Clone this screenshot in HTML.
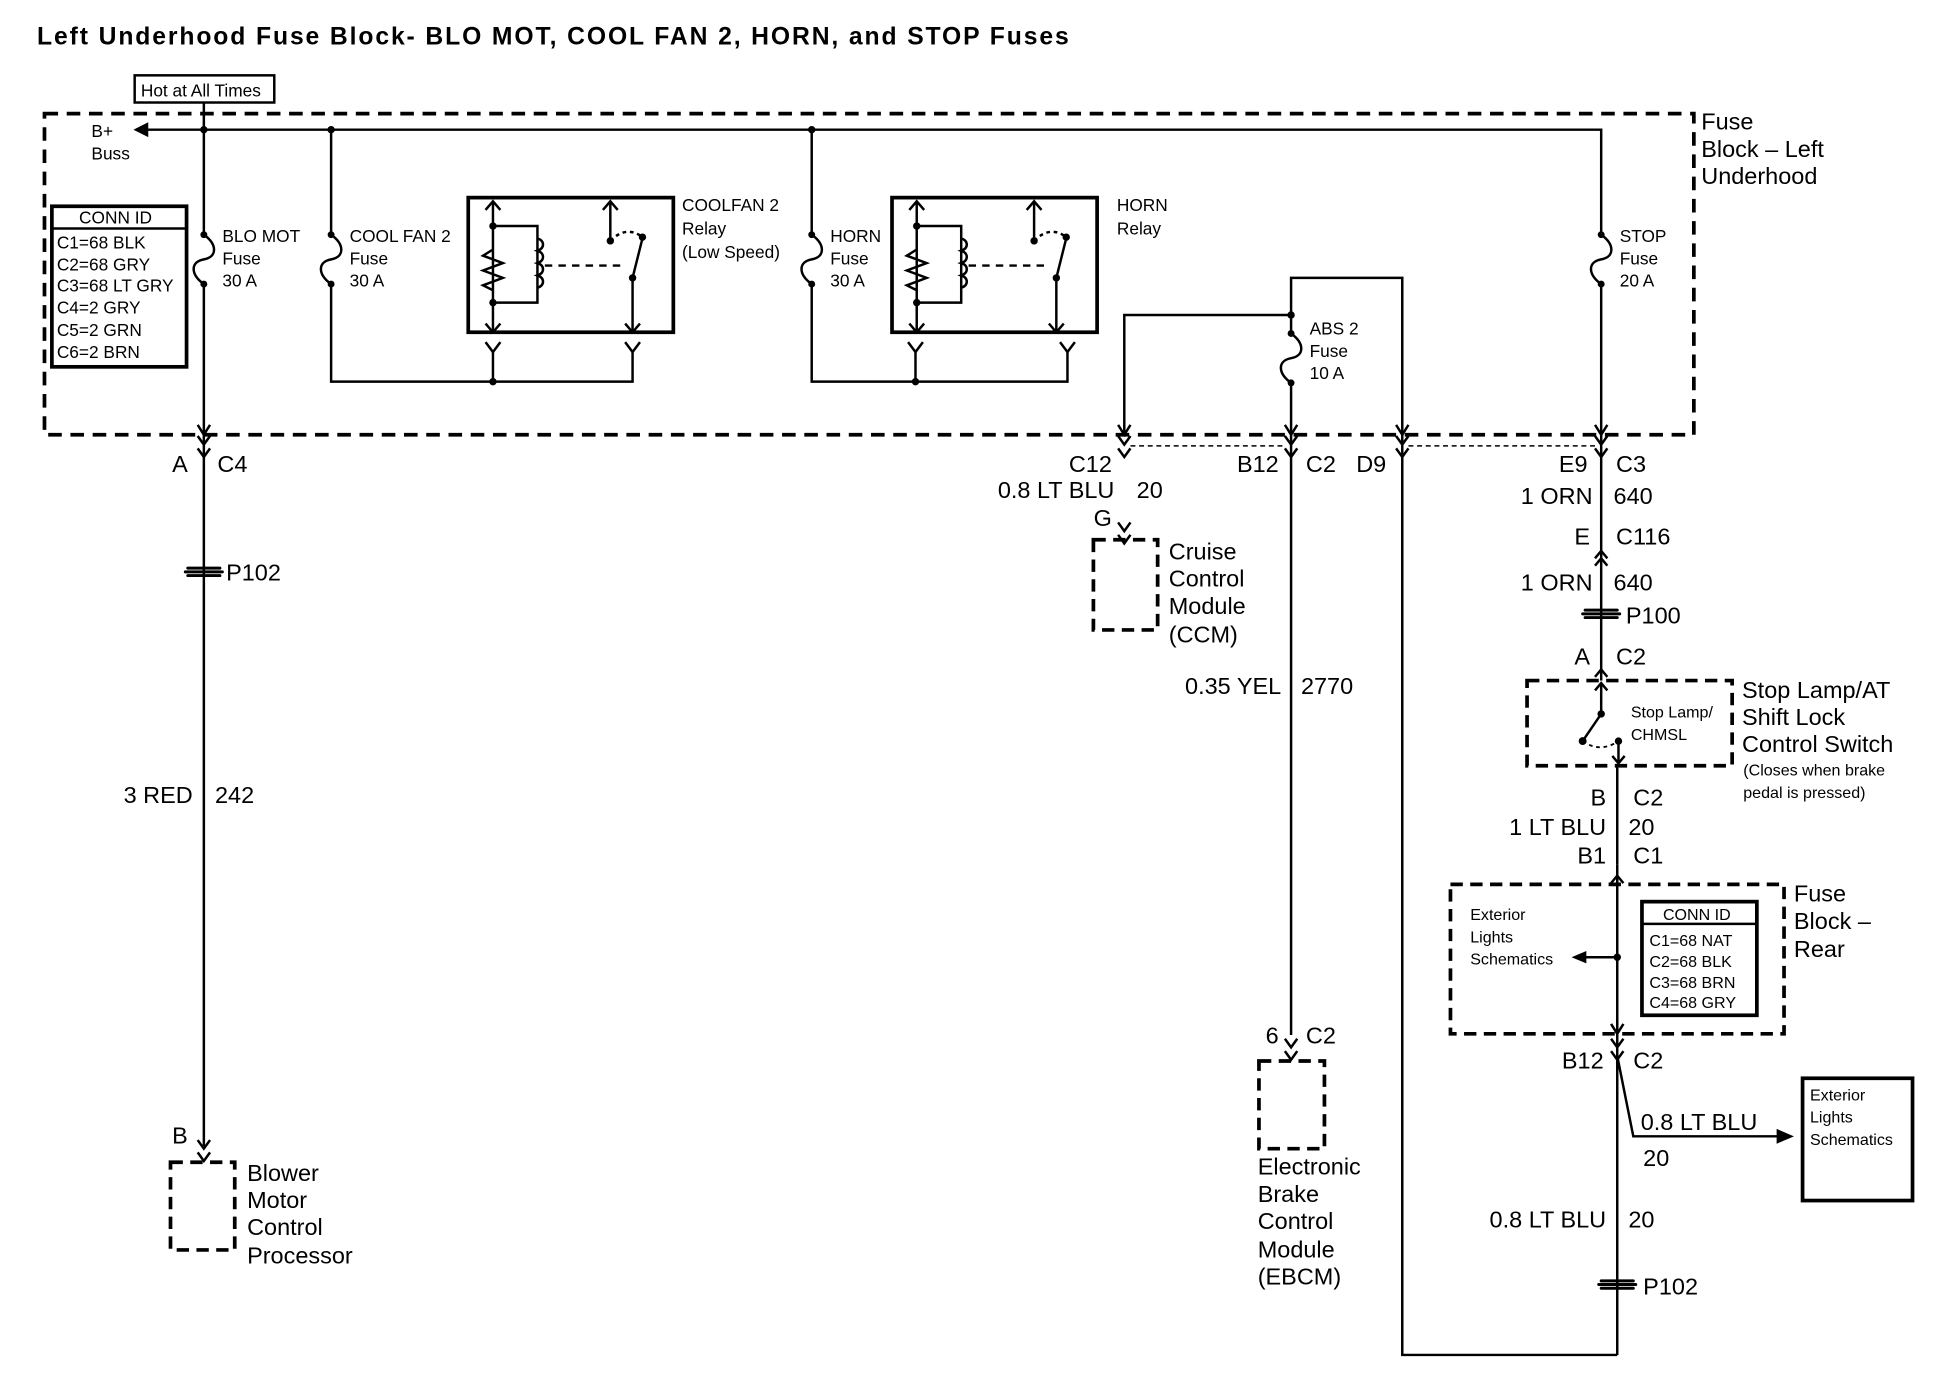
<!DOCTYPE html>
<html><head><meta charset="utf-8"><style>
html,body{margin:0;padding:0;background:#fff;}
svg{display:block;}
text{font-family:"Liberation Sans",Arial,sans-serif;fill:#000;}
.b{font-size:19px;}
.s{font-size:14px;}
.r{text-anchor:end;}
</style></head><body>
<svg width="1936" height="1392" viewBox="0 0 1567 1127" preserveAspectRatio="none" xmlns="http://www.w3.org/2000/svg">
<defs>
<g id="fz"><path d="M0,0 C11,8 11,18 0,20 C-11,22 -11,32 0,40" fill="none" stroke="#000" stroke-width="2"/><circle cx="0" cy="0" r="2.8"/><circle cx="0" cy="40" r="2.8"/></g>
<g id="cn"><path d="M-5,-7 L0,0 L5,-7 M-5,3 L0,10 L5,3" fill="none" stroke="#000" stroke-width="2"/></g>
<g id="sp"><path d="M-13,-3 L13,-3 M-13,3 L13,3 M-15,0 L15,0" stroke="#000" stroke-width="2.4" stroke-linecap="round"/></g>
<g id="relay">
<rect x="0" y="0" width="166" height="109" fill="none" stroke="#000" stroke-width="3"/>
<path d="M20,3 V109 M20,23 H56 V85 H20 M20,42 L12,47 L28,53 L12,59 L28,65 L12,71 L20,75 M56,33 c6,2 6,8 0,10 c6,2 6,8 0,10 c6,2 6,8 0,10 c6,2 6,8 0,10 M133,109 V65 L141,33 M115,3 V35" fill="none" stroke="#000" stroke-width="2"/>
<path d="M62,55 H128" stroke="#000" stroke-width="2" stroke-dasharray="6,5"/>
<path d="M115,35 Q128,22 141,32" fill="none" stroke="#000" stroke-width="2" stroke-dasharray="3,3"/>
<path d="M14,10 L20,3 L26,10 M109,10 L115,3 L121,10 M14,102 L20,109 L26,102 M127,102 L133,109 L139,102" fill="none" stroke="#000" stroke-width="2"/>
<circle cx="20" cy="23" r="3"/><circle cx="20" cy="85" r="3"/><circle cx="115" cy="35" r="3"/><circle cx="141" cy="32" r="3"/><circle cx="133" cy="65" r="3"/>
</g>
</defs>

<text x="30" y="36" font-size="20" font-weight="bold" textLength="835" lengthAdjust="spacing">Left Underhood Fuse Block- BLO MOT, COOL FAN 2,   HORN, and STOP Fuses</text>
<rect x="109" y="61" width="113" height="22" fill="none" stroke="#000" stroke-width="2"/>
<text x="114" y="78" class="s">Hot at All Times</text>

<rect x="36" y="92" width="1335" height="260" fill="none" stroke="#000" stroke-width="3" stroke-dasharray="11,7"/>
<text x="1377" y="105" class="b">Fuse</text><text x="1377" y="127" class="b">Block – Left</text><text x="1377" y="149" class="b">Underhood</text>

<g fill="none" stroke="#000" stroke-width="2">
<path d="M110,105 H1296 V190 M1296,230 V352"/>
<path d="M165,83 V190 M165,230 V928"/>
<path d="M268,105 V190 M268,230 V309 H512 V285 M399,309 V285"/>
<path d="M657,105 V190 M657,230 V309 H864 V285 M741,309 V285"/>
<path d="M1045,270 V225 H1135 V1097 H1309 M910,352 V255 H1045 M1045,310 V838"/>
<path d="M1296,352 V620 M1309,620 V640 M1309,700 V1097"/>
<path d="M1309,775 H1280 M1309,855 L1322,920 H1445"/>
<path d="M393,277 L399,285 L405,277 M506,277 L512,285 L518,277 M735,277 L741,285 L747,277 M858,277 L864,285 L870,277"/>
</g>
<path d="M108,105 L120,99 L120,111 Z"/>
<path d="M1272,775 L1284,770 L1284,780 Z"/>
<path d="M1452,920 L1438,914 L1438,926 Z"/>
<circle cx="165" cy="105" r="3"/><circle cx="268" cy="105" r="3"/><circle cx="657" cy="105" r="3"/>
<circle cx="399" cy="309" r="3"/><circle cx="741" cy="309" r="3"/><circle cx="1045" cy="255" r="3"/><circle cx="1309" cy="775" r="3"/>
<path d="M905,344 L910,352 L915,344 M1040,344 L1045,352 L1050,344 M1130,344 L1135,352 L1140,344 M1291,344 L1296,352 L1301,344 M160,344 L165,352 L170,344" fill="none" stroke="#000" stroke-width="2"/>

<text x="74" y="111" class="s">B+</text><text x="74" y="129" class="s">Buss</text>
<rect x="42" y="167" width="109" height="130" fill="none" stroke="#000" stroke-width="3"/>
<path d="M42,185 H151" stroke="#000" stroke-width="2"/>
<text x="64" y="181" class="s">CONN ID</text>
<text x="46" y="201" class="s">C1=68 BLK</text><text x="46" y="219" class="s">C2=68 GRY</text><text x="46" y="236" class="s">C3=68 LT GRY</text><text x="46" y="254" class="s">C4=2 GRY</text><text x="46" y="272" class="s">C5=2 GRN</text><text x="46" y="290" class="s">C6=2 BRN</text>

<use href="#fz" x="165" y="190"/><use href="#fz" x="268" y="190"/><use href="#fz" x="657" y="190"/><use href="#fz" x="1296" y="190"/><use href="#fz" x="1045" y="270"/>
<text x="180" y="196" class="s">BLO MOT</text><text x="180" y="214" class="s">Fuse</text><text x="180" y="232" class="s">30 A</text>
<text x="283" y="196" class="s">COOL FAN 2</text><text x="283" y="214" class="s">Fuse</text><text x="283" y="232" class="s">30 A</text>
<text x="672" y="196" class="s">HORN</text><text x="672" y="214" class="s">Fuse</text><text x="672" y="232" class="s">30 A</text>
<text x="1311" y="196" class="s">STOP</text><text x="1311" y="214" class="s">Fuse</text><text x="1311" y="232" class="s">20 A</text>
<text x="1060" y="271" class="s">ABS 2</text><text x="1060" y="289" class="s">Fuse</text><text x="1060" y="307" class="s">10 A</text>
<use href="#relay" x="379" y="160"/><use href="#relay" x="722" y="160"/>
<text x="552" y="171" class="s">COOLFAN 2</text><text x="552" y="190" class="s">Relay</text><text x="552" y="209" class="s">(Low Speed)</text>
<text x="904" y="171" class="s">HORN</text><text x="904" y="190" class="s">Relay</text>

<use href="#cn" x="165" y="360"/><use href="#cn" x="910" y="360"/><use href="#cn" x="1045" y="360"/><use href="#cn" x="1135" y="360"/><use href="#cn" x="1296" y="360"/>
<path d="M915,361 H1040 M1140,361 H1291" stroke="#000" stroke-width="1.2" stroke-dasharray="4,3"/>

<text x="152" y="382" class="b r">A</text><text x="176" y="382" class="b">C4</text>
<use href="#sp" x="165" y="463"/><text x="183" y="470" class="b">P102</text>
<text x="156" y="650" class="b r">3 RED</text><text x="174" y="650" class="b">242</text>
<use href="#cn" x="165" y="930"/>
<text x="152" y="926" class="b r">B</text>
<rect x="138" y="941" width="52" height="71" fill="none" stroke="#000" stroke-width="3" stroke-dasharray="10,6"/>
<text x="200" y="956" class="b">Blower</text><text x="200" y="978" class="b">Motor</text><text x="200" y="1000" class="b">Control</text><text x="200" y="1023" class="b">Processor</text>

<text x="900" y="382" class="b r">C12</text><text x="902" y="403" class="b r">0.8 LT BLU</text><text x="920" y="403" class="b">20</text>
<text x="900" y="426" class="b r">G</text><use href="#cn" x="910" y="430"/>
<rect x="885" y="437" width="52" height="73" fill="none" stroke="#000" stroke-width="3" stroke-dasharray="10,6"/>
<text x="946" y="453" class="b">Cruise</text><text x="946" y="475" class="b">Control</text><text x="946" y="497" class="b">Module</text><text x="946" y="520" class="b">(CCM)</text>

<text x="1035" y="382" class="b r">B12</text><text x="1057" y="382" class="b">C2</text><text x="1122" y="382" class="b r">D9</text>
<text x="1037" y="562" class="b r">0.35 YEL</text><text x="1053" y="562" class="b">2770</text>
<text x="1035" y="845" class="b r">6</text><text x="1057" y="845" class="b">C2</text><use href="#cn" x="1045" y="848"/>
<rect x="1019" y="859" width="53" height="71" fill="none" stroke="#000" stroke-width="3" stroke-dasharray="10,6"/>
<text x="1018" y="951" class="b">Electronic</text><text x="1018" y="973" class="b">Brake</text><text x="1018" y="995" class="b">Control</text><text x="1018" y="1018" class="b">Module</text><text x="1018" y="1040" class="b">(EBCM)</text>

<text x="1285" y="382" class="b r">E9</text><text x="1308" y="382" class="b">C3</text>
<text x="1289" y="408" class="b r">1 ORN</text><text x="1306" y="408" class="b">640</text>
<text x="1287" y="441" class="b r">E</text><text x="1308" y="441" class="b">C116</text>
<path d="M1291,452 L1296,446 L1301,452 M1291,458 L1296,452 L1301,458" fill="none" stroke="#000" stroke-width="2"/>
<text x="1289" y="478" class="b r">1 ORN</text><text x="1306" y="478" class="b">640</text>
<use href="#sp" x="1296" y="497"/><text x="1316" y="505" class="b">P100</text>
<text x="1287" y="538" class="b r">A</text><text x="1308" y="538" class="b">C2</text>
<path d="M1291,548 L1296,542 L1301,548" fill="none" stroke="#000" stroke-width="2"/>
<rect x="1236" y="551" width="166" height="69" fill="#fff" stroke="#000" stroke-width="3" stroke-dasharray="10,6"/>
<path d="M1296,553 V578 L1281,600 M1310,600 V618" fill="none" stroke="#000" stroke-width="2"/>
<path d="M1291,559 L1296,553 L1301,559 M1305,612 L1310,618 L1315,612" fill="none" stroke="#000" stroke-width="2"/>
<path d="M1281,600 Q1295,610 1310,600" fill="none" stroke="#000" stroke-width="1.5" stroke-dasharray="3,3"/>
<circle cx="1296" cy="578" r="3"/><circle cx="1281" cy="600" r="3.2"/><circle cx="1310" cy="600" r="3"/>
<text x="1320" y="581" font-size="13">Stop Lamp/</text><text x="1320" y="599" font-size="13">CHMSL</text>
<text x="1410" y="565" class="b">Stop Lamp/AT</text><text x="1410" y="587" class="b">Shift Lock</text><text x="1410" y="609" class="b">Control Switch</text>
<text x="1411" y="628" font-size="13">(Closes when brake</text><text x="1411" y="646" font-size="13">pedal is pressed)</text>
<path d="M1309,620 V700" stroke="#000" stroke-width="2"/>
<text x="1300" y="652" class="b r">B</text><text x="1322" y="652" class="b">C2</text>
<text x="1300" y="676" class="b r">1 LT BLU</text><text x="1318" y="676" class="b">20</text>
<text x="1300" y="699" class="b r">B1</text><text x="1322" y="699" class="b">C1</text>
<path d="M1304,715 L1309,709 L1314,715" fill="none" stroke="#000" stroke-width="2"/>
<rect x="1174" y="716" width="270" height="121" fill="none" stroke="#000" stroke-width="3" stroke-dasharray="10,6"/>
<text x="1452" y="730" class="b">Fuse</text><text x="1452" y="752" class="b">Block –</text><text x="1452" y="775" class="b">Rear</text>
<text x="1190" y="745" font-size="13">Exterior</text><text x="1190" y="763" font-size="13">Lights</text><text x="1190" y="781" font-size="13">Schematics</text>
<rect x="1329" y="730" width="93" height="92" fill="#fff" stroke="#000" stroke-width="3"/>
<path d="M1329,748 H1422" stroke="#000" stroke-width="2"/>
<text x="1346" y="745" font-size="13">CONN ID</text>
<text x="1335" y="766" font-size="13">C1=68 NAT</text><text x="1335" y="783" font-size="13">C2=68 BLK</text><text x="1335" y="800" font-size="13">C3=68 BRN</text><text x="1335" y="816" font-size="13">C4=68 GRY</text>
<path d="M1304,829 L1309,837 L1314,829" fill="none" stroke="#000" stroke-width="2"/>
<use href="#cn" x="1309" y="848"/>
<text x="1298" y="865" class="b r">B12</text><text x="1322" y="865" class="b">C2</text>
<text x="1328" y="915" class="b">0.8 LT BLU</text><text x="1330" y="944" class="b">20</text>
<rect x="1459" y="873" width="89" height="99" fill="none" stroke="#000" stroke-width="3"/>
<text x="1465" y="891" font-size="13">Exterior</text><text x="1465" y="909" font-size="13">Lights</text><text x="1465" y="927" font-size="13">Schematics</text>
<text x="1300" y="994" class="b r">0.8 LT BLU</text><text x="1318" y="994" class="b">20</text>
<use href="#sp" x="1309" y="1040"/><text x="1330" y="1048" class="b">P102</text>
</svg>
</body></html>
